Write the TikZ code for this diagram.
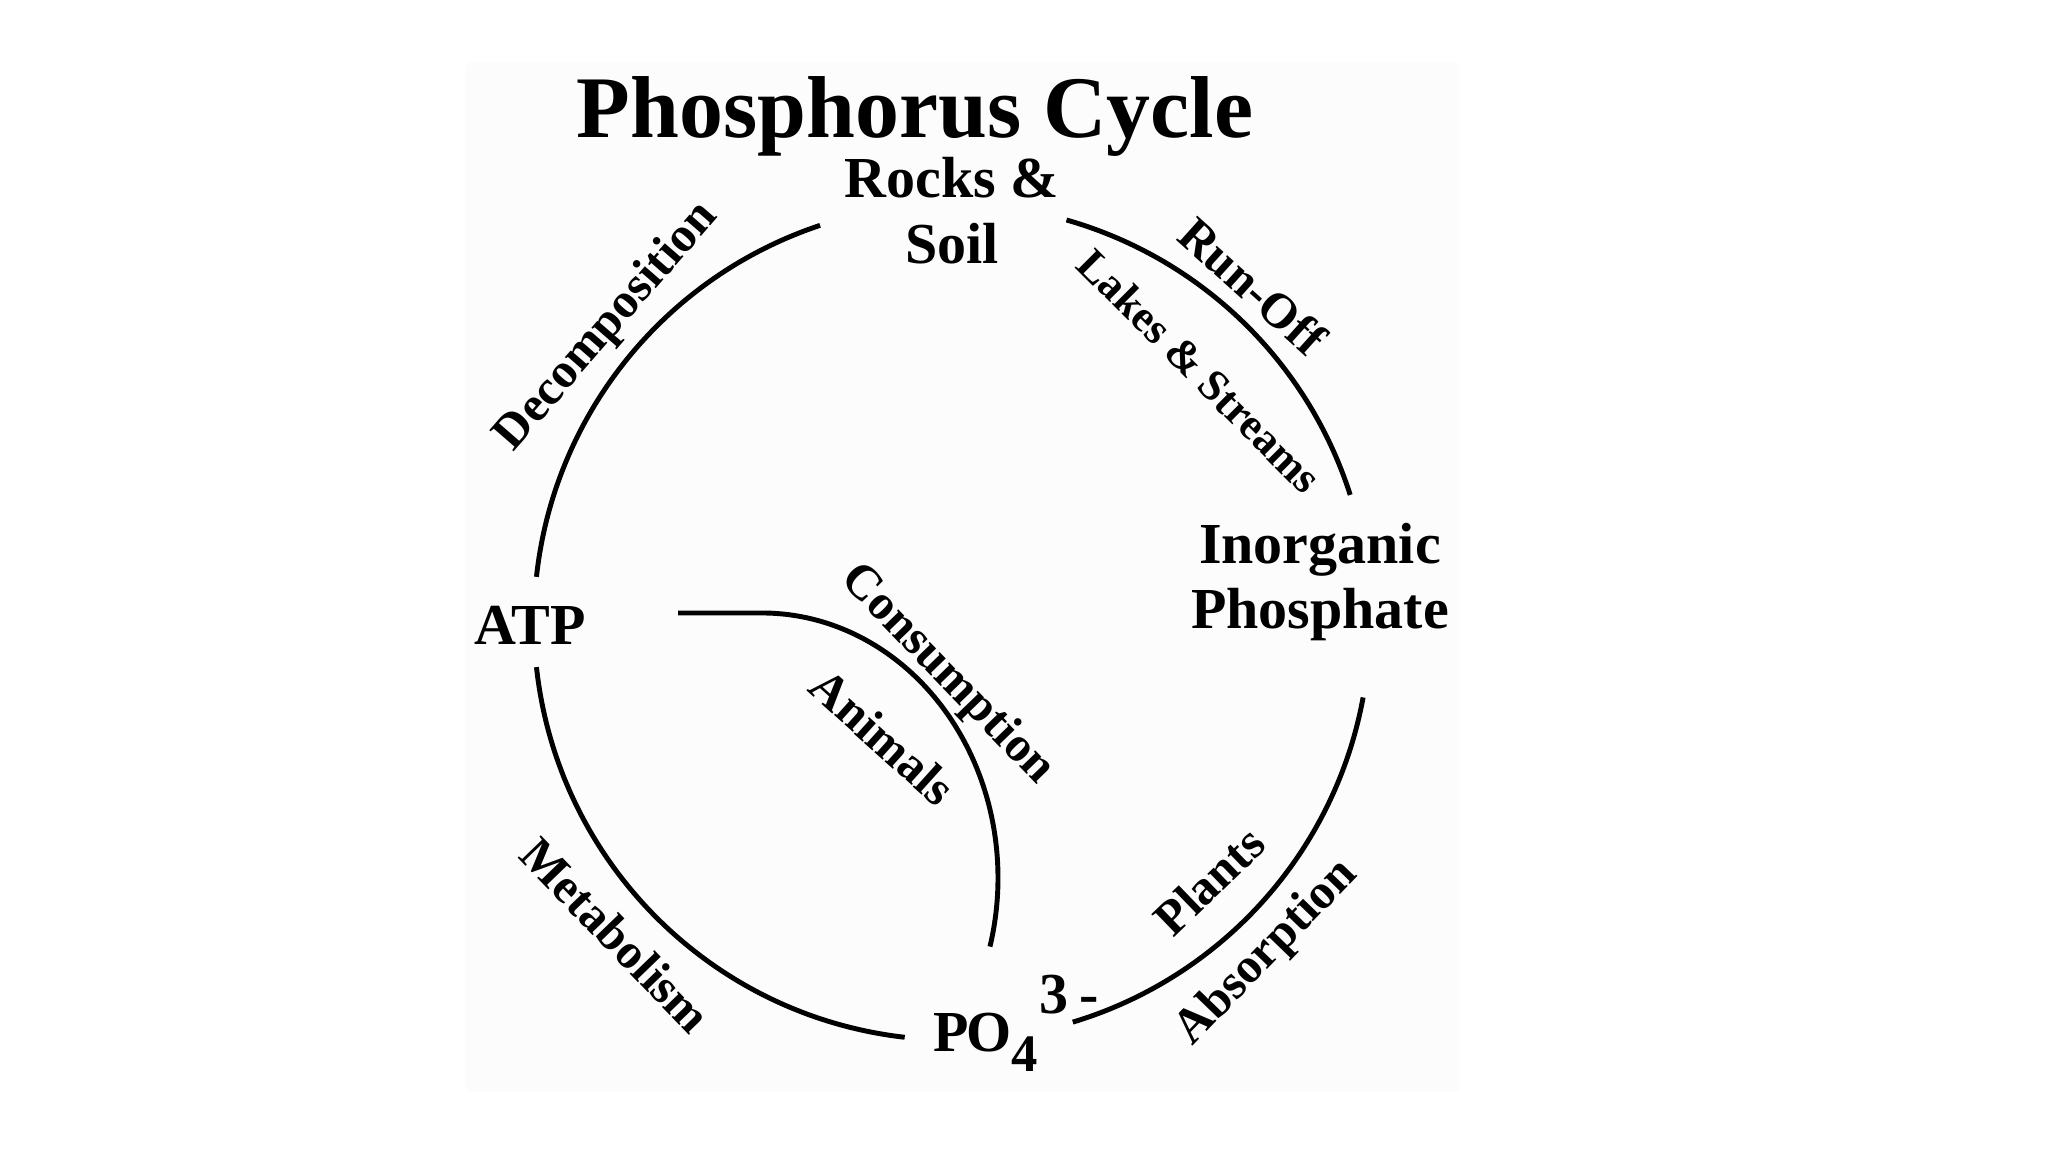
\documentclass[tikz,border=0pt]{standalone}
\usepackage{fontspec}
\setmainfont{Liberation Serif}
\begin{document}
\begin{tikzpicture}[
    stage/.style={font=\bfseries\fontsize{16.5}{18.7}\selectfont, align=center, inner sep=0pt},
    along/.style={font=\bfseries\fontsize{14}{16}\selectfont, inner sep=0pt},
    cyc/.style={line width=1.4pt}
]
    \useasboundingbox (0,0) rectangle (20.48,11.52);
    \fill[black!1.2, rounded corners=2pt] (4.65,0.60) rectangle (14.60,10.90);
    \coordinate (c) at (9.52,5.30);
    \node[anchor=base, font=\bfseries\fontsize{25}{30}\selectfont] (title) at (9.15,10.14) {Phosphorus Cycle};
    % stations of the cycle
    \node[stage] (rocks) at (9.52,9.41) {Rocks \&\\Soil};
    \node[stage] (inorg) at (13.20,5.70) {Inorganic\\Phosphate};
    \node[stage, anchor=base] (atp) at (5.30,5.07) {ATP};
    \node[stage, anchor=base west] (po) at (9.33,1.00)
        {P\kern-0.04em O\raisebox{-0.34em}{\fontsize{15}{15}\selectfont 4}\hspace{0.02em}\raisebox{0.66em}{3\hspace{0.2em}-}};
    % the outer circle
    \draw[cyc] ([shift={(108.4:4.18)}]c) arc[start angle=108.4, end angle=173.8, radius=4.18];
    \draw[cyc] ([shift={(74.1:4.18)}]c) arc[start angle=74.1, end angle=17.7, radius=4.18];
    \draw[cyc] ([shift={(-10.4:4.18)}]c) arc[start angle=-10.4, end angle=-73.2, radius=4.18];
    \draw[cyc] ([shift={(186.2:4.18)}]c) arc[start angle=186.2, end angle=263.5, radius=4.18];
    % inner arc
    \draw[cyc] (6.78,5.39) -- (7.62,5.39) arc[start angle=90, end angle=-15, x radius=2.36, y radius=2.65];
    % labels along the arcs
    \node[along, rotate=49] (decomp) at (6.07,8.25) {Decomposition};
    \node[along, rotate=-42] (runoff) at (12.53,8.66) {Run-Off};
    \node[along, rotate=-45, font=\bfseries\fontsize{12.5}{15}\selectfont] (lakes) at (12.00,7.81) {Lakes \& Streams};
    \node[along, rotate=-46] (consum) at (9.47,4.77) {Consumption};
    \node[along, rotate=-42] (animals) at (8.83,4.15) {Animals};
    \node[along, rotate=-46] (metab) at (6.16,2.17) {Metabolism};
    \node[along, rotate=44] (plants) at (12.09,2.71) {Plants};
    \node[along, rotate=46] (absorb) at (12.67,1.99) {Absorption};
\end{tikzpicture}
\end{document}
